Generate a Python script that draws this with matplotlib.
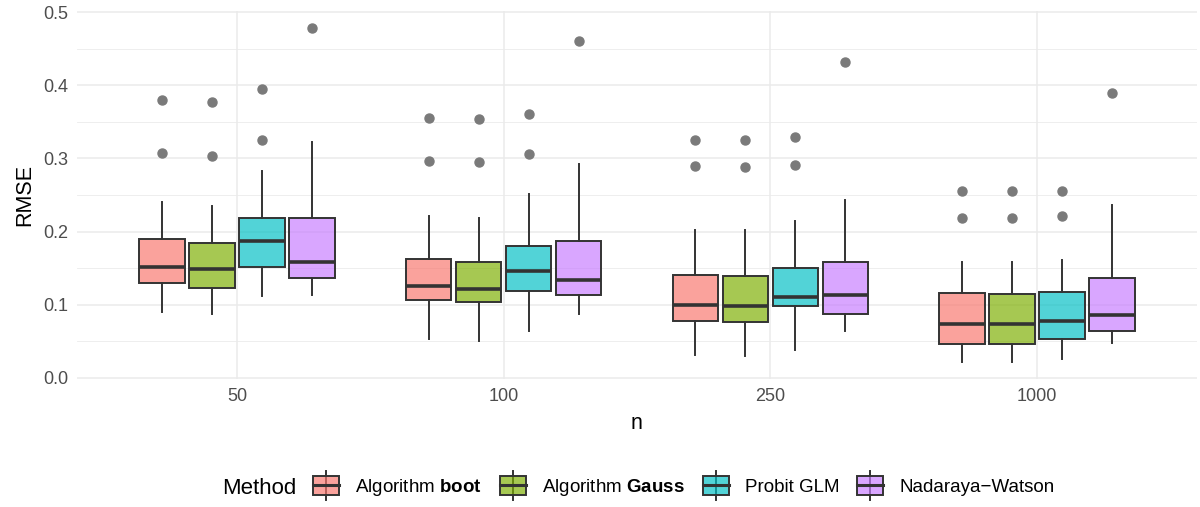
import matplotlib
matplotlib.use("Agg")
from matplotlib import pyplot as plt
from matplotlib.legend_handler import HandlerBase
from matplotlib.patches import Rectangle, Patch
from matplotlib.lines import Line2D
import numpy as np

plt.rcParams['font.family'] = ['Liberation Sans', 'DejaVu Sans']
plt.rcParams['mathtext.fontset'] = 'custom'
plt.rcParams['mathtext.rm'] = 'Liberation Sans'
plt.rcParams['mathtext.bf'] = 'Liberation Sans:bold'

n_labels = ["50", "100", "250", "1000"]
methods = ["Algorithm $\\mathbf{boot}$", "Algorithm $\\mathbf{Gauss}$", "Probit GLM", "Nadaraya\u2212Watson"]
colors = ["#F8766D", "#7CAE00", "#00BFC4", "#C77CFF"]

# rows = method, columns = n
whis_lo = [[0.090, 0.053, 0.031, 0.022],
           [0.0876, 0.050, 0.030, 0.0215],
           [0.112, 0.064, 0.038, 0.026],
           [0.113, 0.087, 0.0635, 0.047]]
q1 = [[0.129, 0.107, 0.078, 0.0465],
      [0.123, 0.103, 0.076, 0.046],
      [0.152, 0.119, 0.0985, 0.0534],
      [0.136, 0.113, 0.0876, 0.0643]]
med = [[0.152, 0.125, 0.100, 0.074],
       [0.149, 0.122, 0.0985, 0.074],
       [0.187, 0.146, 0.111, 0.077],
       [0.158, 0.134, 0.1136, 0.0862]]
q3 = [[0.190, 0.162, 0.140, 0.1155],
      [0.184, 0.159, 0.139, 0.115],
      [0.219, 0.180, 0.150, 0.1177],
      [0.219, 0.187, 0.158, 0.1364]]
whis_hi = [[0.240, 0.2217, 0.2025, 0.159],
           [0.235, 0.219, 0.202, 0.159],
           [0.283, 0.252, 0.215, 0.1615],
           [0.3225, 0.292, 0.243, 0.236]]
outliers = [[[0.380, 0.308], [0.355, 0.297], [0.325, 0.289], [0.255, 0.219]],
            [[0.377, 0.303], [0.354, 0.2956], [0.325, 0.288], [0.255, 0.219]],
            [[0.395, 0.325], [0.361, 0.306], [0.330, 0.2915], [0.2555, 0.221]],
            [[0.479], [0.460], [0.4316], [0.3896]]]

ALPHA = 0.68
EDGE = "#333333"

fig = plt.figure(figsize=(12, 5.07), dpi=100)
ax = fig.add_axes([77 / 1200, 1 - 379.2 / 507, 1120 / 1200, (379.2 - 10.8) / 507])

dodge = 0.75 / 4
for m in range(4):
    stats = []
    pos = []
    for j in range(4):
        stats.append(dict(whislo=whis_lo[m][j], q1=q1[m][j], med=med[m][j],
                          q3=q3[m][j], whishi=whis_hi[m][j], fliers=outliers[m][j]))
        pos.append(j + 1 + (m - 1.5) * dodge)
    ax.bxp(stats, positions=pos, widths=0.17, patch_artist=True, showcaps=False,
           boxprops=dict(facecolor=matplotlib.colors.to_rgba(colors[m], ALPHA), edgecolor=EDGE, linewidth=1.4),
           medianprops=dict(color=EDGE, linewidth=2.6, solid_capstyle='butt'),
           whiskerprops=dict(color=EDGE, linewidth=1.4),
           flierprops=dict(marker='o', markerfacecolor='#7a7a7a', markeredgecolor='#7a7a7a', markersize=6.5),
           manage_ticks=False, zorder=3)

ax.set_xlim(0.4, 4.6)
ax.set_ylim(-0.002, 0.502)
ax.set_xticks(range(1, 5))
ax.set_xticklabels(n_labels)
ax.set_yticks(np.arange(0, 0.51, 0.1))
ax.set_yticklabels(["0.0", "0.1", "0.2", "0.3", "0.4", "0.5"])
ax.set_yticks(np.arange(0.05, 0.5, 0.1), minor=True)
ax.grid(True, which='major', color='#EBEBEB', linewidth=1.1, zorder=0)
ax.grid(True, which='minor', axis='y', color='#EBEBEB', linewidth=0.6, zorder=0)
ax.set_axisbelow(True)
for s in ax.spines.values():
    s.set_visible(False)
ax.tick_params(which='both', length=0, labelsize=13, labelcolor='#4D4D4D')
ax.tick_params(axis='x', pad=6)
ax.tick_params(axis='y', pad=6)
ax.set_xlabel("n", fontsize=15.5, labelpad=6)
ax.set_ylabel("RMSE", fontsize=15.5, labelpad=6)


class BoxHandler(HandlerBase):
    def create_artists(self, legend, orig_handle, xdescent, ydescent, width, height, fontsize, trans):
        x0, y0 = -xdescent, -ydescent
        xc = x0 + width / 2
        ym = y0 + height / 2
        ext = height * 0.3
        wl = Line2D([xc, xc], [y0 - ext, y0 + height + ext], color=EDGE, lw=1.4, transform=trans)
        r = Rectangle((x0, y0), width, height, facecolor=orig_handle.get_facecolor(),
                      edgecolor=EDGE, lw=1.4, transform=trans)
        ml = Line2D([x0, x0 + width], [ym, ym], color=EDGE, lw=2.2, transform=trans)
        return [wl, r, ml]


handles = [Patch(facecolor=matplotlib.colors.to_rgba(c, ALPHA)) for c in colors]
fig.text(222 / 1200, 1 - 488 / 507, "Method", fontsize=16, va='center', ha='left')
fig.legend(handles, methods, loc='center left', bbox_to_anchor=(313 / 1200, 1 - 487 / 507),
           ncol=4, frameon=False, fontsize=13.5, handlelength=1.4, handleheight=1.15,
           handletextpad=0.85, columnspacing=0.95, borderpad=0, borderaxespad=0,
           handler_map={Patch: BoxHandler()})

fig.savefig("out.png", dpi=100)
